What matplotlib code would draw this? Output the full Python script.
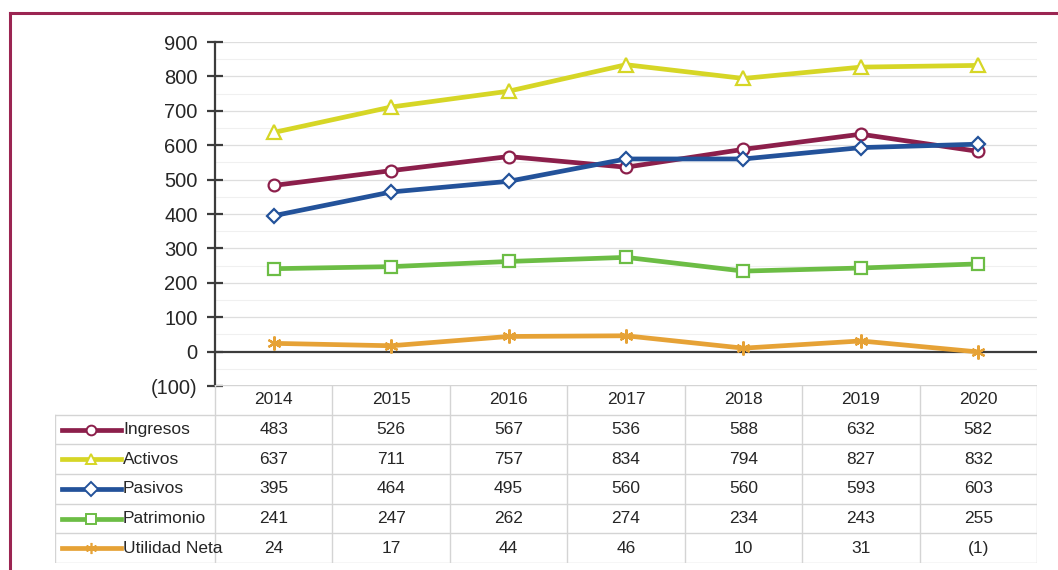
import matplotlib.pyplot as plt
from matplotlib.lines import Line2D
from matplotlib import font_manager

years = ["2014", "2015", "2016", "2017", "2018", "2019", "2020"]
names = ["Ingresos", "Activos", "Pasivos", "Patrimonio", "Utilidad Neta"]

ingresos = [483, 526, 567, 536, 588, 632, 582]
activos = [637, 711, 757, 834, 794, 827, 832]
pasivos = [395, 464, 495, 560, 560, 593, 603]
patrimonio = [241, 247, 262, 274, 234, 243, 255]
utilidad = [24, 17, 44, 46, 10, 31, -1]

series = [ingresos, activos, pasivos, patrimonio, utilidad]
colors = ["#8c1f4b", "#d6d626", "#23529a", "#6cbd45", "#e6a236"]
markers = ["o", "^", "D", "s", (6, 2, 0)]
msizes = [8.5, 9.5, 7.5, 8.5, 10]

available = {f.name for f in font_manager.fontManager.ttflist}
fam = "Liberation Sans Narrow" if "Liberation Sans Narrow" in available else "Liberation Sans"
plt.rcParams["font.family"] = [fam, "DejaVu Sans"]
txt = "#262626"


def fmt(v):
    return "({})".format(-v) if v < 0 else str(v)


fig = plt.figure(figsize=(10.58, 5.70), dpi=100)

# outer frame, only top and left show inside the image
fig.add_artist(Line2D([10 / 1058, 10 / 1058], [0, 1 - 13 / 570],
                      transform=fig.transFigure, color="#9b2552", lw=2.2))
fig.add_artist(Line2D([10 / 1058, 1], [1 - 13 / 570, 1 - 13 / 570],
                      transform=fig.transFigure, color="#9b2552", lw=2.2))

# chart area
ax = fig.add_axes([215 / 1058, 1 - 386 / 570, 822 / 1058, 344 / 570])
ax.set_xlim(0, len(years))
ax.set_ylim(-100, 900)
x = [i + 0.5 for i in range(len(years))]

for yv in range(-50, 900, 100):
    ax.axhline(yv, color="#f0f0f0", lw=0.8, zorder=0)
for yv in range(100, 901, 100):
    ax.axhline(yv, color="#dedede", lw=0.9, zorder=0)
ax.axhline(0, color="#3c3c3c", lw=1.6, zorder=1)

for vals, c, m, ms in zip(series, colors, markers, msizes):
    if m == (6, 2, 0):
        ax.plot(x, vals, color=c, lw=3.4, marker=m, ms=ms, mew=1.6,
                mec=c, zorder=3)
    else:
        ax.plot(x, vals, color=c, lw=3.4, marker=m, ms=ms, mfc="white",
                mec=c, mew=1.6, zorder=3)

ax.set_yticks(range(-100, 901, 100))
ax.set_yticklabels([fmt(v) for v in range(-100, 901, 100)],
                   fontsize=14.5, color=txt)
ax.tick_params(axis="y", direction="inout", length=11, width=1.6,
               color="#3c3c3c", pad=7)
ax.set_xticks([])
for s in ["top", "right", "bottom"]:
    ax.spines[s].set_visible(False)
ax.spines["left"].set_color("#3c3c3c")
ax.spines["left"].set_linewidth(1.6)

# data table below the chart
lab_w = (215 - 55) / 117.4
tb = fig.add_axes([55 / 1058, 1 - 563 / 570, 982 / 1058, 178 / 570])
tb.set_xlim(-lab_w, len(years))
tb.set_ylim(len(names) + 1, 0)
tb.axis("off")
gc = "#d4d4d4"

tb.plot([0, len(years)], [0, 0], color=gc, lw=1)
for i in range(len(years) + 1):
    tb.plot([i, i], [0, len(names) + 1], color=gc, lw=1)
tb.plot([-lab_w, -lab_w], [1, len(names) + 1], color=gc, lw=1)
for r in range(1, len(names) + 2):
    tb.plot([-lab_w, len(years)], [r, r], color=gc, lw=1)

for i, yr in enumerate(years):
    tb.text(i + 0.5, 0.5, yr, ha="center", va="center", fontsize=12.5,
            color=txt)

for r, (nm, vals, c, m) in enumerate(zip(names, series, colors, markers)):
    yr = r + 1.5
    x0, x1 = -lab_w + 0.06, -lab_w + 0.56
    tb.plot([x0, x1], [yr, yr], color=c, lw=3.4)
    if m == (6, 2, 0):
        tb.plot([(x0 + x1) / 2], [yr], marker=m, ms=8, color=c, mew=1.2)
    else:
        tb.plot([(x0 + x1) / 2], [yr], marker=m, ms=7, mfc="white", mec=c,
                mew=1.4)
    tb.text(x1 + 0.02, yr, nm, ha="left", va="center", fontsize=12.5,
            color=txt)
    for i, v in enumerate(vals):
        tb.text(i + 0.5, yr, fmt(v), ha="center", va="center",
                fontsize=12.5, color=txt)

fig.savefig("out.png", dpi=100)
